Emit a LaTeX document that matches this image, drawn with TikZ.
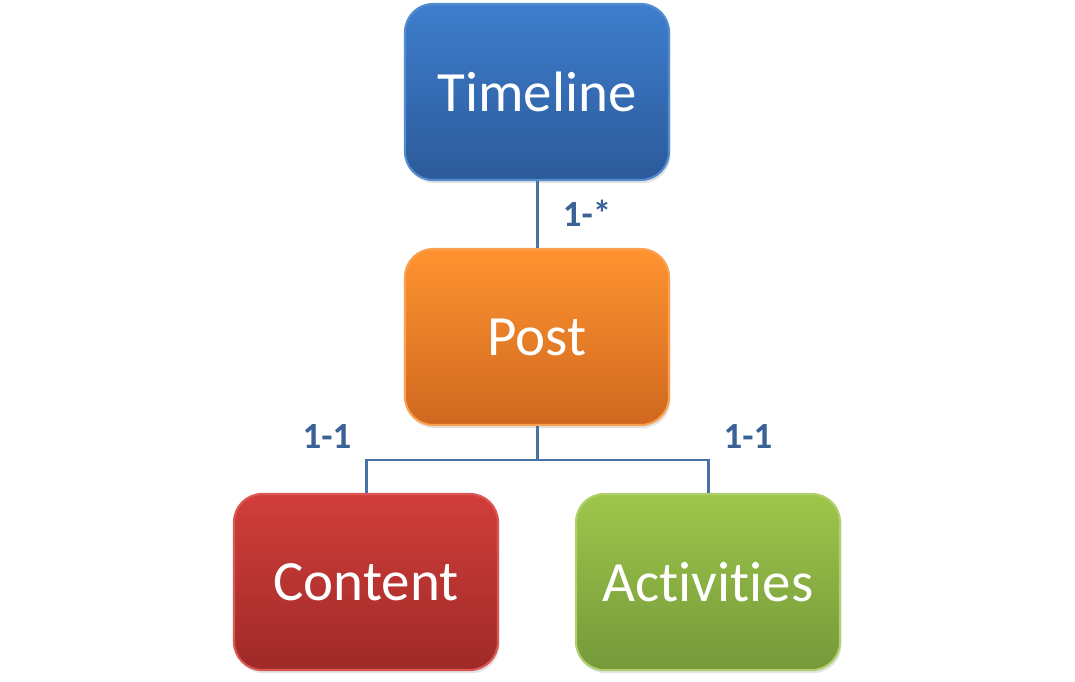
\documentclass[tikz,border=0pt]{standalone}
\usepackage{fontspec}
\setmainfont{Carlito}[Ligatures={NoCommon}]
\usetikzlibrary{positioning, shadows}
\definecolor{Veza}{HTML}{4672A8}
\definecolor{Oznaka}{HTML}{3B6296}
\tikzset{
  entitet/.style = {rectangle, rounded corners=8pt, line width=0.6pt,
                    minimum width=2.64cm, minimum height=1.76cm,
                    text=white, font=\fontsize{16.2}{19}\selectfont,
                    drop shadow={opacity=0.22, shadow xshift=0.4pt, shadow yshift=-0.9pt}},
  plava/.style     = {entitet, draw={rgb,255:red,84;green,140;blue,208}, top color={rgb,255:red,62;green,126;blue,205}, bottom color={rgb,255:red,44;green,90;blue,154}},
  narandza/.style  = {entitet, draw={rgb,255:red,250;green,160;blue,80}, top color={rgb,255:red,255;green,147;blue,48}, bottom color={rgb,255:red,207;green,104;blue,31}},
  crvena/.style    = {entitet, draw={rgb,255:red,218;green,88;blue,84}, top color={rgb,255:red,209;green,62;blue,58}, bottom color={rgb,255:red,159;green,42;blue,40}},
  zelena/.style    = {entitet, draw={rgb,255:red,176;green,208;blue,110}, top color={rgb,255:red,158;green,198;blue,75}, bottom color={rgb,255:red,117;green,153;blue,58}},
  veza/.style      = {draw=Veza, line width=0.85pt},
  oznaka/.style    = {text=Oznaka, font=\bfseries\fontsize{10.5}{12}\selectfont},
}
\begin{document}
\begin{tikzpicture}[x=1cm, y=1cm]
  \useasboundingbox (0,0) rectangle (10.75,6.82);
  % --- entiteti ---
  \node[plava]    at (5.37, 5.90) (timeline)   {Timeline};
  \node[narandza] at (5.37, 3.45) (post)       {Post};
  \node[crvena]   at (3.66, 1.00) (content)    {Content};
  \node[zelena]   at (7.08, 1.00) (activities) {Activities};

  % --- veze ---
  \draw[veza] (timeline) -- (post);
  \coordinate (grana) at (5.37, 2.22);
  \draw[veza] (post) -- (grana) -| (content);
  \draw[veza] (grana) -| (activities);

  % --- kardinalnost ---
  \node[oznaka] at (5.87, 4.69) (jedan)  {1-*};
  \node[oznaka] at (3.27, 2.45) (levo)   {1-1};
  \node[oznaka] at (7.48, 2.45) (desno)  {1-1};
\end{tikzpicture}
\end{document}
